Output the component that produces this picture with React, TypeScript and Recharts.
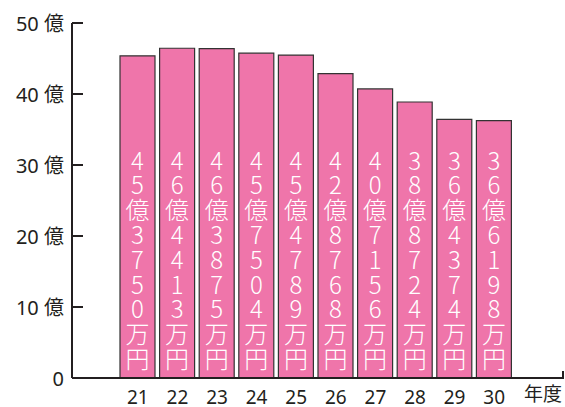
import React from 'react';
import { BarChart, Bar, XAxis, YAxis, LabelList } from 'recharts';

const years = ['21', '22', '23', '24', '25', '26', '27', '28', '29', '30'];
// bar heights in 億円 (as drawn)
const values = [45.375, 46.441, 46.388, 45.75, 45.479, 42.877, 40.716, 38.872, 36.437, 36.26];
// bar texts
const barLabels = [
  '45億3750万円',
  '46億4413万円',
  '46億3875万円',
  '45億7504万円',
  '45億4789万円',
  '42億8768万円',
  '40億7156万円',
  '38億8724万円',
  '36億4374万円',
  '36億6198万円',
];
const yTicks = [0, 10, 20, 30, 40, 50];
const unitLabel = '年度';

const data = years.map((y, i) => ({
  year: y,
  value: values[i],
  label: barLabels[i],
}));

const FONT = "'Noto Sans', 'Noto Sans CJK JP', sans-serif";
const TEXT_COLOR = '#231f20';

const YTick = (props: any) => {
  const { x, y, payload } = props;
  const v = payload.value;
  return (
    <g>
      <line x1={x} x2={x + 11} y1={y} y2={y} stroke={TEXT_COLOR} strokeWidth={2} />
      <text x={x - 8} y={y} textAnchor="end" dominantBaseline="central" fontSize={20} fill={TEXT_COLOR} fontFamily={FONT}>
        {v === 0 ? '0' : `${v} 億`}
      </text>
    </g>
  );
};

const XLabel = (props: any) => {
  const vb = props.viewBox || {};
  const right = vb.x + vb.width;
  return (
    <g>
      <line x1={right - 1} x2={right - 1} y1={vb.y} y2={vb.y - 7} stroke={TEXT_COLOR} strokeWidth={2} />
      <text x={right - 21} y={vb.y + 16} textAnchor="middle" dominantBaseline="central" fontSize={19} fill={TEXT_COLOR} fontFamily={FONT}>
        {unitLabel}
      </text>
    </g>
  );
};

const BarText = (props: any) => {
  const { x, y, width, height, value } = props;
  const chars = String(value).split('');
  const cx = x + width / 2;
  const bottom = y + height;
  const step = 24.8;
  const n = chars.length;
  return (
    <text textAnchor="middle" dominantBaseline="central" fontSize={24} fill="#ffffff" fontFamily="'Noto Sans CJK JP', sans-serif" fontWeight={300}>
      {chars.map((c, i) => (
        <tspan key={i} x={cx} y={bottom - 21 - (n - 1 - i) * step}>
          {c}
        </tspan>
      ))}
    </text>
  );
};

export default function App() {
  return (
    <div style={{ position: 'absolute', left: 0, top: 0, width: 565, height: 407, background: '#fff' }}>
      <BarChart width={565} height={407} data={data} margin={{ top: 23, right: 1, bottom: 0, left: 12 }} barSize={35}>
        <YAxis
          width={60}
          domain={[0, 50]}
          ticks={yTicks}
          type="number"
          tickLine={false}
          tickSize={0}
          tickMargin={0}
          axisLine={{ stroke: TEXT_COLOR, strokeWidth: 2 }}
          tick={<YTick />}
          interval={0}
        />
        <XAxis
          dataKey="year"
          padding={{ left: 46, right: 50 }}
          tickLine={false}
          axisLine={{ stroke: TEXT_COLOR, strokeWidth: 2 }}
          tick={{ fontSize: 19, fill: TEXT_COLOR, fontFamily: FONT }}
          tickMargin={7}
          interval={0}
          height={29}
          label={<XLabel />}
        />
        <Bar dataKey="value" fill="#ef75aa" stroke="#333333" strokeWidth={1.2} isAnimationActive={false}>
          <LabelList dataKey="label" content={<BarText />} />
        </Bar>
      </BarChart>
    </div>
  );
}
